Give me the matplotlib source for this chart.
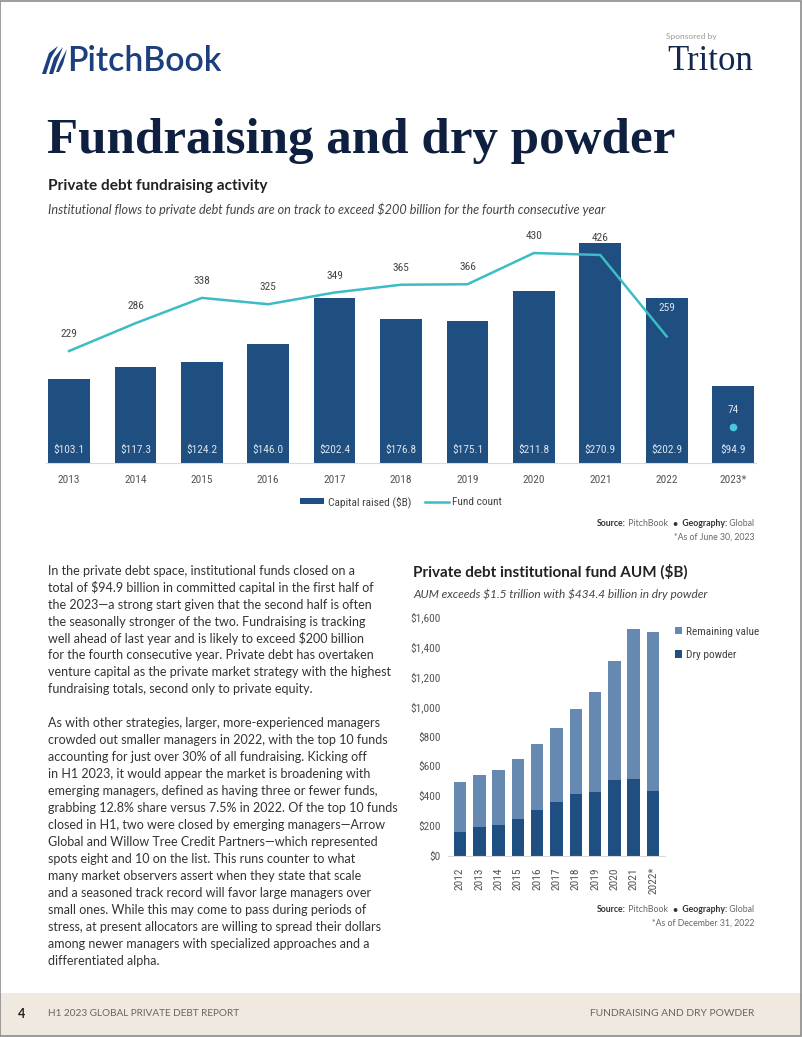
import matplotlib
matplotlib.use("Agg")
import matplotlib.pyplot as plt
import matplotlib.font_manager as fm
from matplotlib.patches import Rectangle, Polygon, Patch
from matplotlib.lines import Line2D
import numpy as np

# ---------------- data ----------------
years_top = ["2013", "2014", "2015", "2016", "2017", "2018", "2019", "2020", "2021", "2022", "2023*"]
capital_raised = [103.1, 117.3, 124.2, 146.0, 202.4, 176.8, 175.1, 211.8, 270.9, 202.9, 94.9]
fund_count = [229, 286, 338, 325, 349, 365, 366, 430, 426, 259, 74]

years_aum = ["2012", "2013", "2014", "2015", "2016", "2017", "2018", "2019", "2020", "2021", "2022*"]
dry_powder = [161, 197, 208, 250, 306, 362, 418, 429, 507, 516, 434.4]
remaining_value = [337, 344, 369, 398, 447, 496, 563, 666, 800, 1001, 1068]
aum_ticks = [0, 200, 400, 600, 800, 1000, 1200, 1400, 1600]

para1 = [
    "In the private debt space, institutional funds closed on a",
    "total of $94.9 billion in committed capital in the first half of",
    "the 2023\u2014a strong start given that the second half is often",
    "the seasonally stronger of the two. Fundraising is tracking",
    "well ahead of last year and is likely to exceed $200 billion",
    "for the fourth consecutive year. Private debt has overtaken",
    "venture capital as the private market strategy with the highest",
    "fundraising totals, second only to private equity.",
]
para2 = [
    "As with other strategies, larger, more-experienced managers",
    "crowded out smaller managers in 2022, with the top 10 funds",
    "accounting for just over 30% of all fundraising. Kicking off",
    "in H1 2023, it would appear the market is broadening with",
    "emerging managers, defined as having three or fewer funds,",
    "grabbing 12.8% share versus 7.5% in 2022. Of the top 10 funds",
    "closed in H1, two were closed by emerging managers\u2014Arrow",
    "Global and Willow Tree Credit Partners\u2014which represented",
    "spots eight and 10 on the list. This runs counter to what",
    "many market observers assert when they state that scale",
    "and a seasoned track record will favor large managers over",
    "small ones. While this may come to pass during periods of",
    "stress, at present allocators are willing to spread their dollars",
    "among newer managers with specialized approaches and a",
    "differentiated alpha.",
]

# ---------------- fonts ----------------
names = {f.name for f in fm.fontManager.ttflist}
def pick(*cands):
    for c in cands:
        if c in names:
            return c
    return "DejaVu Sans"

SANS = pick("Lato", "Open Sans", "Noto Sans", "DejaVu Sans")
COND = pick("Roboto Condensed", "Liberation Sans Narrow", "Open Sans Condensed", "Lato")
SERIF = pick("Liberation Serif", "DejaVu Serif")

NAVY = "#1F4E80"
TEAL = "#3CBCC4"
DOT = "#4CC6DE"
STEEL = "#6589B1"
GRAY = "#555555"
DARK = "#333333"
CS = 8.2  # chart text size

W, H = 802, 1037
fig = plt.figure(figsize=(W / 100, H / 100), dpi=100)
fig.patch.set_facecolor("white")

def fx(x):
    return x / W

def fy(y):
    return 1 - y / H

def txt(x, y, s, **kw):
    kw.setdefault("family", SANS)
    return fig.text(fx(x), fy(y), s, parse_math=False, **kw)

# ---------------- header ----------------
logo_col = "#1C3F7E"
sails = [
    [(42, 74), (49, 53), (58, 46), (51, 58), (46, 74)],
    [(49, 74), (54, 58), (63, 47), (57, 62), (53, 74)],
    [(56, 72), (60, 62), (67, 49), (63, 64), (59, 72)],
]
for s in sails:
    fig.patches.append(Polygon([(fx(a), fy(b)) for a, b in s], closed=True,
                               transform=fig.transFigure, facecolor=logo_col, edgecolor="none"))
txt(67, 61, "PitchBook", fontsize=24.3, fontweight="semibold", color=logo_col, va="center", ha="left")
txt(666, 36, "Sponsored by", fontsize=6, color="#9a9a9a", va="center", ha="left")
txt(667, 62, "Triton", fontsize=25, color="#13274F", va="center", ha="left", family=SERIF)

txt(47, 153, "Fundraising and dry powder", fontsize=36.7, fontweight="bold", color="#0E1F3F",
    va="baseline", ha="left", family=SERIF)

txt(48, 186, "Private debt fundraising activity", fontsize=11.1, fontweight="bold", color="#222222",
    va="center", ha="left")
txt(48, 209, "Institutional flows to private debt funds are on track to exceed $200 billion for the fourth consecutive year",
    fontsize=9.05, style="italic", color="#444444", va="center", ha="left")

# ---------------- top chart ----------------
px_per_b = 0.812
px_per_cnt = 0.4876
base_y = 462.7
ymax1 = 300
ax_h = ymax1 * px_per_b
ymax2 = ax_h / px_per_cnt
left_px, right_px = 45.8, 756.3
ax = fig.add_axes([fx(left_px), fy(base_y), (right_px - left_px) / W, ax_h / H])
x = np.arange(len(years_top))
ax.bar(x, capital_raised, width=0.628, color=NAVY, zorder=2, label="Capital raised ($B)")
ax.set_xlim(-0.35, len(years_top) - 0.65)
ax.set_ylim(0, ymax1)
for s in ["top", "right", "left"]:
    ax.spines[s].set_visible(False)
ax.spines["bottom"].set_color("#d9d9d9")
ax.spines["bottom"].set_linewidth(0.8)
ax.set_yticks([])
ax.set_xticks(x)
ax.set_xticklabels(years_top, family=COND, fontsize=CS, color=GRAY)
ax.tick_params(axis="x", length=0, pad=9)
for xi, v in zip(x, capital_raised):
    ax.annotate(f"${v:.1f}", (xi, 0), xytext=(0, 9.1), textcoords="offset points",
                ha="center", va="center", family=COND, fontsize=CS, color="#dbe3ee", zorder=4,
                annotation_clip=False)

ax2 = ax.twinx()
ax2.set_ylim(0, ymax2)
ax2.axis("off")
ax2.plot(x[:-1], fund_count[:-1], color=TEAL, lw=1.8, zorder=3, solid_joinstyle="miter")
ax2.plot(x[-1:], fund_count[-1:], "o", color=DOT, ms=4.5, zorder=3)
label_offset = {9: 28}
for i, (xi, c) in enumerate(zip(x, fund_count)):
    off_px = label_offset.get(i, 17)
    lab_val_px = c * px_per_cnt + off_px
    inside = lab_val_px < capital_raised[i] * px_per_b
    ax2.annotate(str(c), (xi, c), xytext=(0, off_px * 0.72), textcoords="offset points",
                 ha="center", va="center", family=COND, fontsize=CS,
                 color="#dbe3ee" if inside else "#444444", zorder=5)

handles = [Patch(facecolor=NAVY, edgecolor="none"), Line2D([], [], color=TEAL, lw=1.8)]
fig.legend(handles, ["Capital raised ($B)", "Fund count"], loc="center",
           bbox_to_anchor=(fx(401), fy(502)), ncol=2, frameon=False,
           prop={"family": COND, "size": CS}, labelcolor="#444444",
           handlelength=2.1, handleheight=0.45, handletextpad=0.3, columnspacing=1.2)

def rich_right(xr, y, segs, size):
    r = fig.canvas.get_renderer()
    xx = xr
    for s, weight, color in reversed(segs):
        t = txt(xx, y, s, ha="right", va="center", fontsize=size, fontweight=weight, color=color)
        xx -= t.get_window_extent(renderer=r).width

src_segs = [("Source:", "bold", DARK), (" PitchBook  ", "normal", "#666666"), ("\u2022", "bold", DARK),
            ("  Geography:", "bold", DARK), (" Global", "normal", "#666666")]
rich_right(754, 524, src_segs, 6.3)
txt(754, 537, "*As of June 30, 2023", fontsize=6.3, color="#666666", ha="right", va="center")

# ---------------- body text ----------------
line_h = 16.95
y0 = 570.7
for i, line in enumerate(para1):
    txt(48, y0 + i * line_h, line, fontsize=9.0, color="#333333", ha="left", va="center")
for i, line in enumerate(para2):
    txt(48, y0 + (i + 9) * line_h, line, fontsize=9.0, color="#333333", ha="left", va="center")

# ---------------- AUM chart ----------------
txt(413, 572, "Private debt institutional fund AUM ($B)", fontsize=11.0, fontweight="bold",
    color="#222222", ha="left", va="center")
txt(413, 594, "AUM exceeds $1.5 trillion with $434.4 billion in dry powder", fontsize=8.6,
    style="italic", color="#444444", ha="left", va="center")

b_base = 856.0
b_px = 0.1494
b_h = 1600 * b_px
bl, br = 448.4, 664.6
bx = fig.add_axes([fx(bl), fy(b_base), (br - bl) / W, b_h / H])
xa = np.arange(len(years_aum))
bx.bar(xa, dry_powder, width=0.65, color=NAVY, label="Dry powder")
bx.bar(xa, remaining_value, bottom=dry_powder, width=0.65, color=STEEL, label="Remaining value")
bx.set_xlim(-0.6, len(years_aum) - 0.4)
bx.set_ylim(0, 1600)
for s in ["top", "right", "left"]:
    bx.spines[s].set_visible(False)
bx.spines["bottom"].set_color("#d9d9d9")
bx.spines["bottom"].set_linewidth(0.8)
bx.set_yticks(aum_ticks)
bx.set_yticklabels([f"${v:,}" for v in aum_ticks], family=COND, fontsize=CS, color=GRAY)
bx.set_xticks(xa)
bx.set_xticklabels(years_aum, rotation=90, family=COND, fontsize=CS, color=GRAY)
bx.tick_params(axis="both", length=0)
bx.tick_params(axis="y", pad=5.5)
bx.tick_params(axis="x", pad=8)

h2 = [Patch(facecolor=STEEL), Patch(facecolor=NAVY)]
fig.legend(h2, ["Remaining value", "Dry powder"], loc="upper left",
           bbox_to_anchor=(fx(669), fy(621)), frameon=False, borderpad=0,
           prop={"family": COND, "size": CS}, labelcolor="#444444",
           handlelength=0.65, handleheight=0.65, handletextpad=0.3, labelspacing=1.15)

src2 = [("Source:", "bold", DARK), (" PitchBook  ", "normal", "#666666"), ("\u2022", "bold", DARK),
        ("  Geography:", "bold", DARK), (" Global", "normal", "#666666")]
rich_right(754, 910, src2, 6.3)
txt(754, 923, "*As of December 31, 2022", fontsize=6.3, color="#666666", ha="right", va="center")

# ---------------- footer ----------------
fig.patches.append(Rectangle((0, 0), 1, (H - 993) / H, transform=fig.transFigure,
                             facecolor="#EFE9DF", edgecolor="none", zorder=0))
txt(22, 1014, "4", fontsize=9, fontweight="bold", color="#222222", ha="center", va="center")
txt(48, 1014, "H1 2023 GLOBAL PRIVATE DEBT REPORT", fontsize=7.2, color="#666666", ha="left", va="center")
txt(754, 1014, "FUNDRAISING AND DRY POWDER", fontsize=7.4, color="#666666", ha="right", va="center")

fig.patches.append(Rectangle((0.0006, 0.0005), 0.9982, 0.9990, transform=fig.transFigure,
                             facecolor="none", edgecolor="#8c8c8c", lw=1.2, zorder=10))

fig.savefig("out.png", dpi=100)
